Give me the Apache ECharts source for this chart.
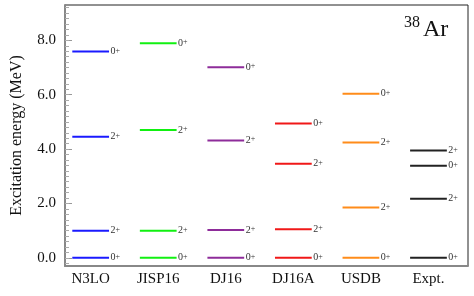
<!DOCTYPE html>
<html><head><meta charset="utf-8">
<script src="https://cdn.jsdelivr.net/npm/echarts@6/dist/echarts.min.js"></script>
<style>html,body{margin:0;padding:0;background:#fff}#c{width:474px;height:296px}</style>
</head><body><div id="c"></div>
<script>
const categories = ['N3LO', 'JISP16', 'DJ16', 'DJ16A', 'USDB', 'Expt.'];
const n3loE  = [0, 1.00, 4.45, 7.59];
const jisp16E = [0, 1.00, 4.70, 7.89];
const dj16E  = [0, 1.02, 4.32, 7.01];
const dj16aE = [0, 1.05, 3.46, 4.94];
const usdbE  = [0, 1.85, 4.24, 6.04];
const exptE  = [0, 2.17, 3.39, 3.95];
const modelSpins = ['0', '2', '2', '0'];
const exptSpins  = ['0', '2', '0', '2'];
const yTickLabels = [0, 2, 4, 6, 8];
const colors = ['#1a1aff', '#11f011', '#8e2c9a', '#f01818', '#ff8c1a', '#222222'];

const levels = [n3loE, jisp16E, dj16E, dj16aE, usdbE, exptE];
const spins = [modelSpins, modelSpins, modelSpins, modelSpins, modelSpins, exptSpins];
const minorVals = [];
for (let k = -1; k <= 46; k++) minorVals.push(+(k * 0.2).toFixed(1));

const FONT = '"Liberation Serif", "DejaVu Serif", serif';
const HW = 0.272;

const chart = echarts.init(document.getElementById('c'));
const series = levels.map((arr, ci) => ({
  type: 'custom',
  name: categories[ci],
  xAxisIndex: 0, yAxisIndex: 0,
  data: arr.map(e => [ci, e]),
  renderItem: (params, api) => {
    const i = api.value(0), e = api.value(1);
    const p1 = api.coord([i - HW, e]);
    const p2 = api.coord([i + HW, e]);
    const sp = spins[ci][params.dataIndex];
    return {
      type: 'group',
      children: [
        { type: 'line', shape: { x1: p1[0], y1: p1[1], x2: p2[0], y2: p2[1] },
          style: { stroke: colors[ci], lineWidth: 2 } },
        { type: 'text', x: p2[0] + 1.5, y: p2[1],
          style: { text: '{a|' + sp + '}{b|+}', verticalAlign: 'middle', align: 'left',
            rich: {
              a: { fontFamily: FONT, fontSize: 10, fill: '#333', verticalAlign: 'bottom', lineHeight: 10 },
              b: { fontFamily: FONT, fontSize: 8, fill: '#333', verticalAlign: 'top', lineHeight: 10, padding: [0, 0, 3, 0] }
            } } }
      ]
    };
  }
}));

chart.setOption({
  animation: false,
  grid: { left: 65, right: 6, top: 5, bottom: 30, show: true, borderColor: '#222', borderWidth: 1 },
  xAxis: {
    type: 'value', min: -0.38, max: 5.585,
    axisLine: { show: true, onZero: false, lineStyle: { color: '#888', width: 2 } },
    axisTick: { show: false },
    splitLine: { show: false },
    axisLabel: { customValues: [0, 1, 2, 3, 4, 5], formatter: v => categories[Math.round(v)],
      fontFamily: FONT, fontSize: 15, color: '#111', margin: 6 }
  },
  yAxis: [{
    type: 'value', min: -0.3, max: 9.3,
    name: 'Excitation energy (MeV)', nameLocation: 'middle', nameGap: 40,
    nameTextStyle: { fontFamily: FONT, fontSize: 16, color: '#111' },
    axisLine: { show: true, onZero: false, lineStyle: { color: '#888', width: 2 } },
    axisTick: { show: true, inside: true, length: 7, customValues: yTickLabels, lineStyle: { color: '#999', width: 1 } },
    splitLine: { show: false },
    axisLabel: { customValues: yTickLabels, formatter: v => v.toFixed(1),
      fontFamily: FONT, fontSize: 15, color: '#111', margin: 9 }
  }, {
    type: 'value', min: -0.3, max: 9.3, position: 'left', offset: 0,
    axisLine: { show: false, onZero: false },
    axisTick: { show: true, inside: true, length: 4, customValues: minorVals, lineStyle: { color: '#aaa', width: 1 } },
    axisLabel: { show: false },
    splitLine: { show: false }
  }],
  graphic: [
    { type: 'text', left: 404, top: 15, style: { text: '38', fontFamily: FONT, fontSize: 16, fill: '#111' } },
    { type: 'text', left: 423, top: 18, style: { text: 'Ar', fontFamily: FONT, fontSize: 24, fill: '#111' } }
  ],
  series
});
</script></body></html>
